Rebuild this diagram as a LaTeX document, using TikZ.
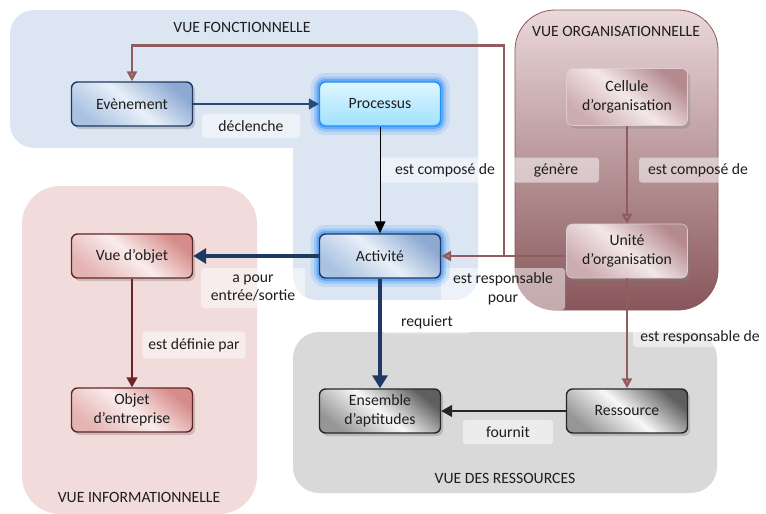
\documentclass[tikz,border=0pt]{standalone}
\usepackage{fontspec}
\setmainfont{Carlito}
\usetikzlibrary{arrows.meta,shadows}

% view areas
\definecolor{funcbg}{RGB}{220,230,242}
\definecolor{infobg}{RGB}{242,220,219}
\definecolor{resbg}{RGB}{217,217,217}
\definecolor{orgtop}{RGB}{234,216,218}
\definecolor{orgbot}{RGB}{136,86,90}
\definecolor{orgline}{RGB}{139,88,92}
% boxes
\definecolor{navy}{RGB}{31,56,100}
\definecolor{bluedark}{RGB}{141,170,210}
\definecolor{bluelight}{RGB}{232,239,248}
\definecolor{bluemid}{RGB}{170,195,226}
\definecolor{procline}{RGB}{30,144,255}
\definecolor{proctop}{RGB}{222,247,255}
\definecolor{procbot}{RGB}{160,225,255}
\definecolor{glow}{RGB}{40,140,250}
\definecolor{pinkline}{RGB}{99,37,35}
\definecolor{pinkdark}{RGB}{214,140,138}
\definecolor{pinklight}{RGB}{250,236,236}
\definecolor{pinkmid}{RGB}{228,180,179}
\definecolor{grayline}{RGB}{38,38,38}
\definecolor{graydark}{RGB}{95,95,95}
\definecolor{graylight}{RGB}{248,248,248}
\definecolor{graymid}{RGB}{150,150,150}
\definecolor{celldark}{RGB}{180,138,142}
\definecolor{celllight}{RGB}{243,231,232}
\definecolor{cellmid}{RGB}{205,172,175}
% connectors and text
\definecolor{linkblue}{RGB}{36,74,122}
\definecolor{linknavy}{RGB}{31,58,98}
\definecolor{linkmaroon}{RGB}{145,92,95}
\definecolor{arrowmaroon}{RGB}{190,140,143}
\definecolor{linkred}{RGB}{105,38,38}
\definecolor{txt}{RGB}{30,30,30}

\tikzset{
  title/.style={text=txt, inner sep=0pt},
  lbl/.style={fill=white, fill opacity=0.5, text opacity=1, rounded corners=3pt,
    inner sep=0pt, align=center, text=txt},
  box/.style={rounded corners=6pt, minimum width=121pt, minimum height=44pt,
    align=center, text=txt, line width=1.4pt, inner sep=2pt},
  shadowed/.style={drop shadow={shadow xshift=2.5pt, shadow yshift=-3pt, opacity=0.35}},
  glowing/.style={preaction={draw=glow, draw opacity=0.15, line width=18pt},
    preaction={draw=glow, draw opacity=0.25, line width=11pt},
    preaction={draw=glow, draw opacity=0.45, line width=6pt}},
  bluebox/.style={box, draw=navy, top color=bluedark, bottom color=bluemid,
    middle color=bluelight, shading angle=-40},
  procbox/.style={box, draw=procline, top color=proctop, bottom color=procbot},
  pinkbox/.style={box, shadowed, draw=pinkline, top color=pinkdark, bottom color=pinkmid,
    middle color=pinklight, shading angle=-40},
  graybox/.style={box, shadowed, draw=grayline, top color=graydark, bottom color=graymid,
    middle color=graylight, shading angle=-40},
  orgbox/.style={box, shadowed, draw=white!70!orgline, line width=0.6pt,
    top color=celldark, bottom color=cellmid, middle color=celllight, shading angle=-40},
  thinblue/.style={draw=linkblue, line width=1.3pt, -{Triangle[length=10pt,width=11pt]}},
  thinblack/.style={draw=black, line width=1pt, -{Triangle[length=12pt,width=11pt]}},
  thicknavy/.style={draw=linknavy, line width=4pt, -{Triangle[length=13pt,width=15pt]}},
  orglink/.style={draw=linkmaroon, line width=2.4pt,
    -{Triangle[length=10pt,width=10pt,fill=arrowmaroon]}},
  redlink/.style={draw=linkred, line width=1.6pt, -{Triangle[length=10pt,width=11pt]}},
  darklink/.style={draw=grayline, line width=1.5pt, -{Triangle[length=11pt,width=12pt]}},
}

\begin{document}
\begin{tikzpicture}[x=1pt, y=-1pt, font=\fontsize{15.7}{18.5}\selectfont]
\useasboundingbox (0,0) rectangle (766,514);

% ---- view areas ----
\fill[funcbg, rounded corners=24pt] (10,10) rectangle (478,148);
\fill[funcbg, rounded corners=24pt] (293,60) rectangle (478,300);
\fill[infobg, rounded corners=38pt] (22,186) rectangle (257,514);
\fill[resbg, rounded corners=26pt] (293,332) rectangle (717,493);
\draw[orgline, line width=0.8pt, top color=orgtop, bottom color=orgbot,
  rounded corners=40pt] (515,10) rectangle (718,310);

\node[title] (tfonc) at (242,27) {VUE FONCTIONNELLE};
\node[title] (torg) at (616,31) {VUE ORGANISATIONNELLE};
\node[title] (tinfo) at (139,497) {VUE INFORMATIONNELLE};
\node[title] (tres) at (505,478) {VUE DES RESSOURCES};

% ---- link labels ----
\node[lbl, minimum width=98pt, minimum height=24pt] (ldecl) at (251,126) {déclenche};
\node[lbl, minimum width=130pt, minimum height=25pt] (lcomp) at (445,170) {est composé de};
\node[lbl, minimum width=86pt, minimum height=25pt] (lgen) at (556,170) {génère};
\node[lbl, minimum width=118pt, minimum height=25pt] (lcomp2) at (698,170) {est composé de};
\node[lbl, minimum width=124pt, minimum height=42pt] (lresp) at (503,289) {est responsable\\pour};
\node[lbl, minimum width=104pt, minimum height=40pt] (lentr) at (253,288) {a pour\\entrée/sortie};
\node[lbl, minimum width=88pt, minimum height=23pt] (lreq) at (427,322) {requiert};
\node[lbl, minimum width=134pt, minimum height=20pt] (lresp2) at (700,337) {est responsable de};
\node[lbl, minimum width=103pt, minimum height=27pt] (ldef) at (194,345) {est définie par};
\node[lbl, minimum width=90pt, minimum height=24pt] (lfour) at (508,432) {fournit};

% ---- boxes ----
\node[bluebox, shadowed] (evt) at (132,104) {Evènement};
\node[procbox, glowing] (proc) at (380,104) {Processus};
\node[bluebox, glowing] (act) at (380,256) {Activité};
\node[pinkbox] (vobj) at (132,256) {Vue d’objet};
\node[pinkbox] (obj) at (132,410) {Objet\\d’entreprise};
\node[graybox] (ens) at (380,411) {Ensemble\\d’aptitudes};
\node[graybox] (res) at (627,411) {Ressource};
\node[orgbox, minimum height=57pt] (cell) at (627,97) {Cellule\\d’organisation};
\node[orgbox, minimum height=54pt] (unit) at (627,251) {Unité\\d’organisation};

% ---- connectors ----
\draw[thinblue] (evt) -- (proc);
\draw[thinblack] (proc) -- (act);
\draw[thicknavy] (act) -- (vobj);
\draw[thicknavy] (act) -- (ens);
\draw[redlink] (vobj) -- (obj);
\draw[darklink] (res) -- (ens);
\draw[orglink] (cell) -- (unit);
\draw[orglink] (unit) -- (res);
\draw[orglink] (act.east -| unit.west) -- (act.east);
\draw[orglink] (act.east -| unit.west) -- ++(-62,0) |- ([yshift=36pt]evt.north) -- (evt.north);
\end{tikzpicture}
\end{document}
